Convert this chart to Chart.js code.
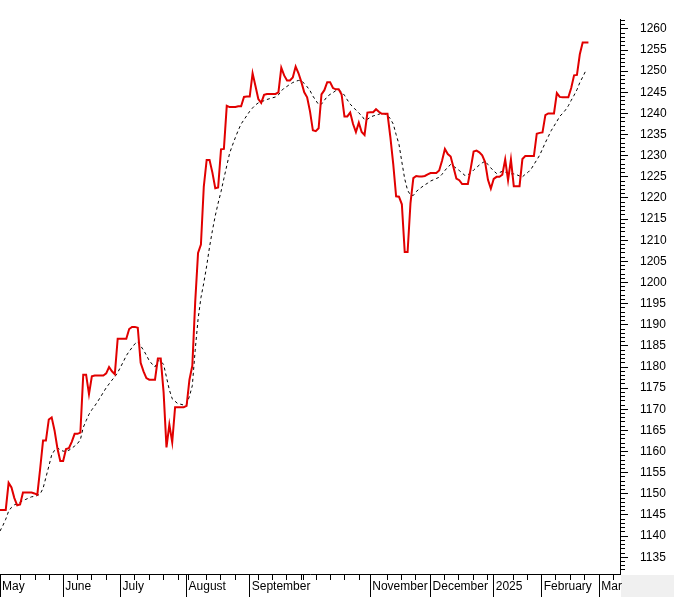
<!DOCTYPE html>
<html>
<head>
<meta charset="utf-8">
<script src="https://cdn.jsdelivr.net/npm/chart.js@4/dist/chart.umd.min.js"></script>
<style>
    html, body { margin: 0; padding: 0; background: #fff; }
    #wrap { width: 674px; height: 597px; }
</style>
</head>
<body>
<div id="wrap"><canvas id="priceChart" width="674" height="597"></canvas></div>
<script>
// ===== DATA =====
// daily closes, one per trading day
const price = [
    1146.2, 1146.2, 1146.2, 1152.6, 1151.5, 1149.0, 1147.3, 1147.5, 1150.3, 1150.3,
    1150.3, 1150.3, 1150.1, 1149.8, 1156.0, 1162.6, 1162.6, 1167.6, 1168.1, 1165.0,
    1160.8, 1157.8, 1157.8, 1160.6, 1160.8, 1162.3, 1164.2, 1164.2, 1164.5, 1178.2,
    1178.2, 1173.6, 1177.8, 1178.0, 1178.0, 1178.0, 1178.0, 1178.5, 1180.0, 1179.0,
    1178.3, 1186.7, 1186.7, 1186.7, 1186.7, 1189.0, 1189.5, 1189.5, 1189.3, 1181.0,
    1179.0, 1177.4, 1177.0, 1177.0, 1177.0, 1182.0, 1182.0, 1174.0, 1161.0, 1166.4,
    1162.2, 1170.5, 1170.5, 1170.5, 1170.5, 1170.8, 1177.0, 1180.3, 1195.3, 1207.0,
    1209.0, 1222.7, 1229.0, 1229.0, 1226.0, 1222.3, 1222.5, 1231.5, 1231.6, 1241.8,
    1241.5, 1241.5, 1241.5, 1241.7, 1241.7, 1243.9, 1244.0, 1244.0, 1249.5, 1246.5,
    1243.4, 1242.5, 1244.4, 1244.6, 1244.6, 1244.6, 1244.6, 1245.0, 1250.8, 1249.0,
    1247.8, 1247.8, 1248.5, 1251.1, 1249.5, 1247.4, 1245.0, 1243.8, 1240.5, 1236.0,
    1235.8, 1236.5, 1244.5, 1245.5, 1247.4, 1247.4, 1246.0, 1245.7, 1245.7, 1244.5,
    1239.3, 1239.3, 1240.2, 1237.5, 1235.6, 1237.8, 1235.6, 1234.9, 1240.2, 1240.3,
    1240.3, 1241.0, 1240.4, 1239.9, 1239.9, 1239.9, 1234.4, 1228.0, 1220.4, 1220.3,
    1218.5, 1207.2, 1207.2, 1218.7, 1224.7, 1225.2, 1225.1, 1225.1, 1225.2, 1225.6,
    1225.9, 1225.9, 1225.9, 1226.5, 1228.8, 1231.6, 1230.4, 1229.8, 1227.2, 1224.6,
    1224.2, 1223.3, 1223.3, 1223.3, 1227.0, 1231.0, 1231.2, 1230.8, 1230.1, 1228.5,
    1224.3, 1222.2, 1224.5, 1225.0, 1225.0, 1225.5, 1229.1, 1224.2, 1229.1, 1222.8,
    1222.8, 1222.8, 1229.2, 1229.9, 1229.9, 1229.9, 1229.9, 1235.2, 1235.4, 1235.5,
    1239.6, 1240.0, 1240.0, 1240.0, 1244.8, 1243.9, 1243.8, 1243.8, 1243.8, 1246.0,
    1249.0, 1249.1, 1254.0, 1256.8, 1256.8, 1256.8
];

// moving average (dashed)
const movingAvg = [
    1141.2, 1142.5, 1144.0, 1145.9, 1146.8, 1147.4, 1147.7, 1148.0, 1148.4, 1148.7,
    1149.0, 1149.3, 1149.4, 1149.6, 1150.0, 1151.3, 1153.9, 1156.5, 1159.2, 1160.3,
    1160.9, 1160.4, 1160.1, 1160.1, 1160.3, 1160.8, 1161.3, 1161.9, 1162.8, 1165.7,
    1167.3, 1168.8, 1169.9, 1170.8, 1171.8, 1172.9, 1174.0, 1175.1, 1176.0, 1176.9,
    1177.7, 1178.7, 1180.0, 1181.3, 1182.7, 1183.7, 1184.6, 1185.5, 1186.0, 1185.0,
    1184.0, 1182.8, 1181.5, 1180.7, 1180.0, 1181.5, 1181.4, 1180.6, 1177.6, 1174.6,
    1172.5, 1171.9, 1171.3, 1171.2, 1171.0, 1171.2, 1173.1, 1175.6, 1184.0, 1191.3,
    1196.4, 1199.9, 1203.9, 1208.4, 1212.3, 1215.8, 1218.8, 1221.5, 1224.6, 1227.6,
    1230.6, 1232.5, 1234.3, 1236.0, 1237.5, 1238.5, 1239.5, 1240.5, 1241.3, 1242.0,
    1242.5, 1242.8, 1243.0, 1243.3, 1243.5, 1243.7, 1243.9, 1244.4, 1245.3, 1246.0,
    1246.4, 1246.9, 1247.3, 1247.6, 1247.8, 1247.7, 1247.1, 1246.3, 1245.4, 1244.1,
    1243.1, 1242.1, 1242.2, 1243.1, 1244.0, 1244.5, 1244.9, 1245.4, 1245.5, 1245.1,
    1244.3, 1243.2, 1242.2, 1241.5, 1240.8, 1240.1, 1239.5, 1238.5, 1238.6, 1239.1,
    1239.4, 1239.6, 1239.8, 1240.1, 1239.9, 1239.6, 1238.7, 1237.5, 1235.0, 1232.7,
    1228.5, 1224.5, 1221.8, 1220.7, 1220.6, 1221.5, 1222.1, 1222.6, 1223.1, 1223.5,
    1224.0, 1224.3, 1224.6, 1224.9, 1225.6, 1226.5, 1227.3, 1227.9, 1227.5, 1227.0,
    1226.5, 1225.9, 1225.3, 1225.5, 1225.9, 1226.6, 1227.2, 1227.8, 1228.3, 1228.7,
    1227.9, 1227.1, 1226.4, 1225.8, 1226.0, 1226.3, 1226.1, 1225.9, 1225.7, 1225.7,
    1225.5, 1225.2, 1225.0, 1225.6, 1226.1, 1226.8, 1227.9, 1229.0, 1230.1, 1231.6,
    1233.1, 1234.5, 1235.9, 1237.0, 1238.1, 1239.3, 1240.0, 1240.8, 1241.8, 1243.1,
    1244.3, 1245.6, 1247.3, 1248.6, 1250.0
];

// x axis: month starts (labelled, long tick) and week ticks, in trading-day units
const monthTicks = [0, 22, 42, 65, 87, 129, 150, 172, 188.75, 208.8];
const monthLabels = ['May', 'June', 'July', 'August', 'September', 'November', 'December', '2025', 'February', 'Mar'];
const weekTicks = [7.2, 12.2, 17.2, 26.9, 31.95, 37.2, 47, 52, 57.1, 62.1, 65.6, 72, 76.9, 81.9,
    90, 95, 99.9, 105.1, 105.7, 110.1, 115, 120, 125.1, 134.9, 140, 144.9, 154.7, 159.9, 164.9,
    169.9, 178.9, 183.9, 193.7, 198.9, 203.8, 213.7];

// y axis labels
const yTicks = [1135, 1140, 1145, 1150, 1155, 1160, 1165, 1170, 1175, 1180, 1185, 1190, 1195,
    1200, 1205, 1210, 1215, 1220, 1225, 1230, 1235, 1240, 1245, 1250, 1255, 1260];

// ===== CHART =====
const FONT = { family: "'Liberation Sans', Arial, sans-serif", size: 12 };

const greyCorner = {
    id: 'greyCorner',
    beforeDraw(chart) {
        const { ctx, chartArea } = chart;
        ctx.save();
        ctx.fillStyle = '#f0f0f0';
        ctx.fillRect(chartArea.right + 1, chartArea.bottom + 1, chart.width - chartArea.right, chart.height - chartArea.bottom);
        ctx.restore();
    }
};

function isMonthTick(v) {
    return monthTicks.some(m => Math.abs(m - v) < 1e-6);
}

new Chart(document.getElementById('priceChart'), {
    type: 'line',
    data: {
        datasets: [{
            label: 'Price',
            data: price.map((v, i) => ({ x: i, y: v })),
            borderColor: 'rgb(225, 0, 0)',
            borderWidth: 2,
            pointRadius: 0,
            tension: 0,
            fill: false
        }, {
            label: 'Average',
            data: movingAvg.map((v, i) => ({ x: i, y: v })),
            borderColor: '#000',
            borderWidth: 1,
            borderDash: [3, 3],
            pointRadius: 0,
            tension: 0,
            fill: false
        }]
    },
    options: {
        responsive: false,
        animation: false,
        events: [],
        layout: { padding: 0 },
        plugins: {
            legend: { display: false },
            tooltip: { enabled: false }
        },
        scales: {
            x: {
                type: 'linear',
                position: 'bottom',
                min: 0,
                max: 216,
                afterBuildTicks: axis => {
                    axis.ticks = monthTicks.concat(weekTicks)
                        .sort((a, b) => a - b)
                        .map(v => ({ value: v }));
                },
                afterFit: axis => { axis.height = 23; },
                grid: {
                    drawOnChartArea: false,
                    drawTicks: true,
                    tickLength: 23,
                    tickColor: '#000',
                    tickWidth: 1,
                    tickBorderDash: ctx => isMonthTick(ctx.tick.value) ? [] : [5, 40]
                },
                border: { display: true, color: '#000', width: 1 },
                ticks: {
                    autoSkip: false,
                    maxRotation: 0,
                    minRotation: 0,
                    align: 'start',
                    labelOffset: 2,
                    padding: -17.7,
                    color: '#000',
                    font: FONT,
                    callback: v => {
                        const k = monthTicks.findIndex(m => Math.abs(m - v) < 1e-6);
                        return k >= 0 ? monthLabels[k] : '';
                    }
                }
            },
            y: {
                type: 'linear',
                position: 'right',
                min: 1131.04,
                max: 1262.29,
                afterBuildTicks: axis => {
                    const t = [];
                    for (let v = 1132; v <= 1262; v++) t.push({ value: v });
                    axis.ticks = t;
                },
                afterFit: axis => { axis.width = 54; },
                grid: {
                    drawOnChartArea: false,
                    drawTicks: true,
                    tickLength: 8,
                    tickColor: '#000',
                    tickWidth: 1,
                    tickBorderDash: ctx => yTicks.includes(ctx.tick.value) ? [] : [4, 20]
                },
                border: { display: true, color: '#000', width: 1 },
                ticks: {
                    autoSkip: false,
                    padding: 12,
                    color: '#000',
                    font: FONT,
                    callback: v => yTicks.includes(v) ? String(v) : ''
                }
            }
        }
    },
    plugins: [greyCorner]
});
</script>
</body>
</html>
